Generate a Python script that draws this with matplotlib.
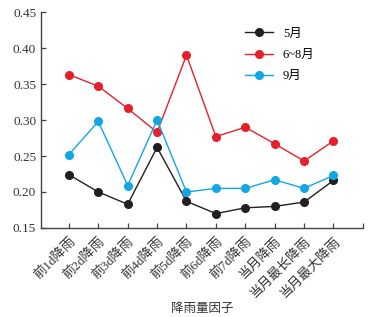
import numpy as np
import matplotlib.pyplot as plt

plt.rcParams['font.family'] = ['Liberation Serif', 'Noto Sans CJK SC']

factors = ['前1d降雨', '前2d降雨', '前3d降雨', '前4d降雨', '前5d降雨',
           '前6d降雨', '前7d降雨', '当月降雨', '当月最长降雨', '当月最大降雨']
may = [0.224, 0.200, 0.183, 0.262, 0.187, 0.170, 0.178, 0.180, 0.186, 0.216]
summer = [0.363, 0.347, 0.316, 0.283, 0.390, 0.277, 0.290, 0.267, 0.243, 0.271]
sep = [0.252, 0.298, 0.209, 0.300, 0.200, 0.205, 0.205, 0.217, 0.205, 0.223]

series = [(may, '5月', '#231f20'), (summer, '6~8月', '#e5202a'), (sep, '9月', '#12a7e3')]

fig = plt.figure(figsize=(3.71, 3.17), dpi=100)
ax = fig.add_axes([0.1105, 0.2808, 0.8675, 0.6812])

x = np.arange(len(factors))
for vals, name, c in series:
    ax.plot(x, vals, '-o', color=c, lw=1.0, ms=5.5, label=name)

ax.set_xlim(-0.95, 10)
ax.set_ylim(0.15, 0.45)
ax.set_xticks(np.arange(11))
ax.set_xticklabels(factors + [''], rotation=45, ha='right', rotation_mode='anchor',
                   fontsize=9.5, color='#333333')
ax.set_yticks(np.arange(0.15, 0.451, 0.05))
ax.set_yticklabels(['%.2f' % v for v in np.arange(0.15, 0.451, 0.05)], fontsize=9.5, color='#333333')
ax.tick_params(direction='in', length=3.5, width=0.9, color='#444444')
ax.tick_params(axis='x', pad=5)

for s in ['top', 'right']:
    ax.spines[s].set_visible(False)
for s in ['left', 'bottom']:
    ax.spines[s].set_color('#444444')
    ax.spines[s].set_linewidth(1.0)

ax.set_xlabel('降雨量因子', fontsize=9, color='#333333', labelpad=2)
ax.legend(loc='upper left', bbox_to_anchor=(0.6, 0.98), frameon=False, fontsize=9,
          handlelength=2.2, labelspacing=0.75)

fig.savefig('out.png', dpi=100)
